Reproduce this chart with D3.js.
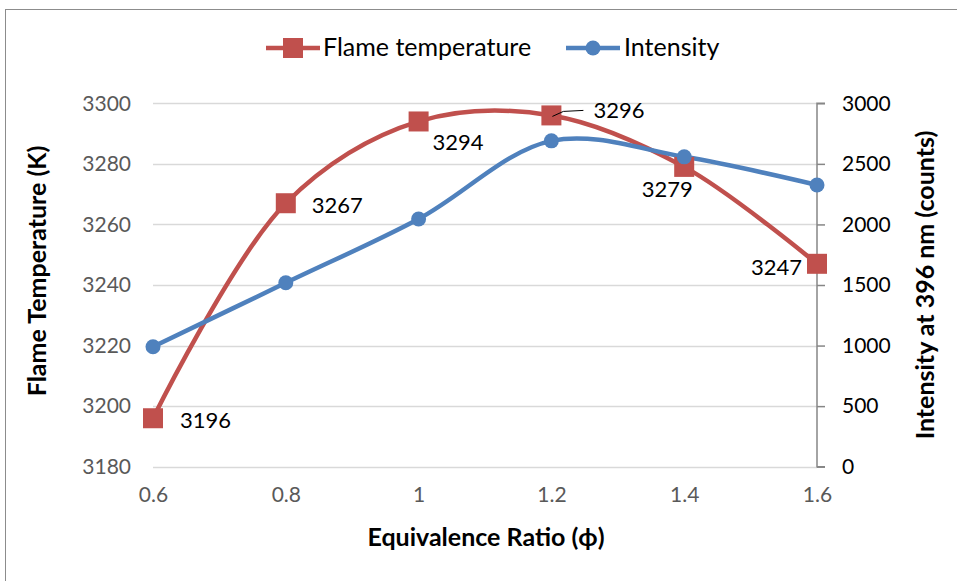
<!DOCTYPE html>
<html>
<head>
<meta charset="utf-8">
<script src="https://cdn.jsdelivr.net/npm/d3@7"></script>
<style>
    body { margin: 0; background: #fff; }
    svg text { font-family: Lato, "Open Sans", sans-serif; }
</style>
</head>
<body>
<svg id="chart" width="957" height="581"></svg>
<script>
// chart data
const ratios = [0.6, 0.8, 1.0, 1.2, 1.4, 1.6];
const flameTemp = [3196, 3267, 3294, 3296, 3279, 3247];
const intensity = [990, 1518, 2045, 2690, 2558, 2326];
const tempTicks = [3180, 3200, 3220, 3240, 3260, 3280, 3300];
const intensityTicks = [0, 500, 1000, 1500, 2000, 2500, 3000];
const ratioTicks = [0.6, 0.8, 1.0, 1.2, 1.4, 1.6];

const RED = "#C0504D";
const BLUE = "#4F81BD";

const svg = d3.select("#chart");

// outer frame
svg.append("rect")
    .attr("x", 5.5).attr("y", 9.5)
    .attr("width", 970).attr("height", 600)
    .attr("fill", "none").attr("stroke", "#8c8c8c").attr("stroke-width", 1);

const x = d3.scaleLinear().domain([0.6, 1.6]).range([153, 817]);
const yLeft = d3.scaleLinear().domain([3180, 3300]).range([466.7, 103.3]);
const yRight = d3.scaleLinear().domain([0, 3000]).range([466.7, 103.3]);

// gridlines
svg.append("g").selectAll("line").data(tempTicks).enter().append("line")
    .attr("x1", 153).attr("x2", 817)
    .attr("y1", d => Math.round(yLeft(d)) + 0.5)
    .attr("y2", d => Math.round(yLeft(d)) + 0.5)
    .attr("stroke", "#d9d9d9").attr("stroke-width", 1.5);

// left axis labels (no axis line)
const leftAxis = svg.append("g").attr("transform", "translate(153,0)")
    .call(d3.axisLeft(yLeft).tickValues(tempTicks).tickSize(0).tickPadding(22)
        .tickFormat(d3.format("d")));
leftAxis.select(".domain").remove();
leftAxis.selectAll("text").attr("font-size", 21).attr("fill", "#595959")
    .style("font-family", "Lato, sans-serif");

// right axis
const rightAxis = svg.append("g").attr("transform", "translate(817,0)")
    .call(d3.axisRight(yRight).tickValues(intensityTicks).tickSize(8).tickPadding(17)
        .tickFormat(d3.format("d")));
rightAxis.select(".domain").attr("stroke", "#868686").attr("stroke-width", 1.5)
    .attr("d", `M8,${yRight(3000)}H0V${yRight(0)}H8`);
rightAxis.selectAll(".tick line").attr("stroke", "#868686").attr("stroke-width", 1.5);
rightAxis.selectAll("text").attr("font-size", 21).attr("fill", "#000")
    .style("font-family", "Lato, sans-serif");

// bottom axis labels
const bottomAxis = svg.append("g").attr("transform", "translate(0,466.7)")
    .call(d3.axisBottom(x).tickValues(ratioTicks).tickSize(0).tickPadding(20)
        .tickFormat(d => d === 1 ? "1" : d3.format(".1f")(d)));
bottomAxis.select(".domain").remove();
bottomAxis.selectAll("text").attr("font-size", 21).attr("fill", "#595959")
    .style("font-family", "Lato, sans-serif");

// axis titles
svg.append("text")
    .attr("transform", "translate(36,271) rotate(-90)")
    .attr("text-anchor", "middle").attr("dominant-baseline", "central")
    .attr("font-size", 25).attr("font-weight", "bold")
    .text("Flame Temperature (K)");
svg.append("text")
    .attr("transform", "translate(924,285) rotate(-90)")
    .attr("text-anchor", "middle").attr("dominant-baseline", "central")
    .attr("font-size", 25).attr("font-weight", "bold")
    .text("Intensity at 396 nm (counts)");
svg.append("text")
    .attr("x", 486).attr("y", 546)
    .attr("text-anchor", "middle").attr("font-size", 25).attr("font-weight", "bold")
    .text("Equivalence Ratio (ϕ)");

// lines
const curve = d3.curveCatmullRom.alpha(0.5);
const tempLine = d3.line().curve(curve)
    .x((d, i) => x(ratios[i])).y(d => yLeft(d));
const intLine = d3.line().curve(curve)
    .x((d, i) => x(ratios[i])).y(d => yRight(d));

svg.append("path").datum(flameTemp).attr("d", tempLine)
    .attr("fill", "none").attr("stroke", RED).attr("stroke-width", 4.5);

svg.append("path").datum(intensity).attr("d", intLine)
    .attr("fill", "none").attr("stroke", BLUE).attr("stroke-width", 4.5);

// markers
svg.append("g").selectAll("rect").data(flameTemp).enter().append("rect")
    .attr("x", (d, i) => x(ratios[i]) - 10)
    .attr("y", d => yLeft(d) - 10)
    .attr("width", 20).attr("height", 20)
    .attr("fill", RED);

svg.append("g").selectAll("circle").data(intensity).enter().append("circle")
    .attr("cx", (d, i) => x(ratios[i]))
    .attr("cy", d => yRight(d))
    .attr("r", 7.5)
    .attr("fill", BLUE);

// data labels for flame temperature (offsets per label)
const labelOffsets = [[27, 10, "start"], [26, 10, "start"], [14, 29, "start"],
                      [42, 3, "start"], [-17, 30, "middle"], [-15, 11, "end"]];
svg.append("g").selectAll("text").data(flameTemp).enter().append("text")
    .attr("x", (d, i) => x(ratios[i]) + labelOffsets[i][0])
    .attr("y", (d, i) => yLeft(d) + labelOffsets[i][1])
    .attr("text-anchor", (d, i) => labelOffsets[i][2])
    .attr("font-size", 22)
    .text(d => d);

// leader line for 3296
svg.append("path")
    .attr("d", `M${x(1.2) + 1},${yLeft(3296) + 1} L${x(1.2) + 12},${yLeft(3296) - 4} L${x(1.2) + 32},${yLeft(3296) - 5}`)
    .attr("fill", "none").attr("stroke", "#000").attr("stroke-width", 1);

// legend
const legend = svg.append("g");
legend.append("line").attr("x1", 266).attr("x2", 320).attr("y1", 48).attr("y2", 48)
    .attr("stroke", RED).attr("stroke-width", 4.5);
legend.append("rect").attr("x", 283).attr("y", 38).attr("width", 20).attr("height", 20)
    .attr("fill", RED);
legend.append("text").attr("x", 323).attr("y", 56).attr("font-size", 25)
    .text("Flame temperature");

legend.append("line").attr("x1", 566).attr("x2", 620).attr("y1", 48).attr("y2", 48)
    .attr("stroke", BLUE).attr("stroke-width", 4.5);
legend.append("circle").attr("cx", 593).attr("cy", 48).attr("r", 7.5)
    .attr("fill", BLUE);
legend.append("text").attr("x", 624).attr("y", 56).attr("font-size", 25)
    .text("Intensity");
</script>
</body>
</html>
